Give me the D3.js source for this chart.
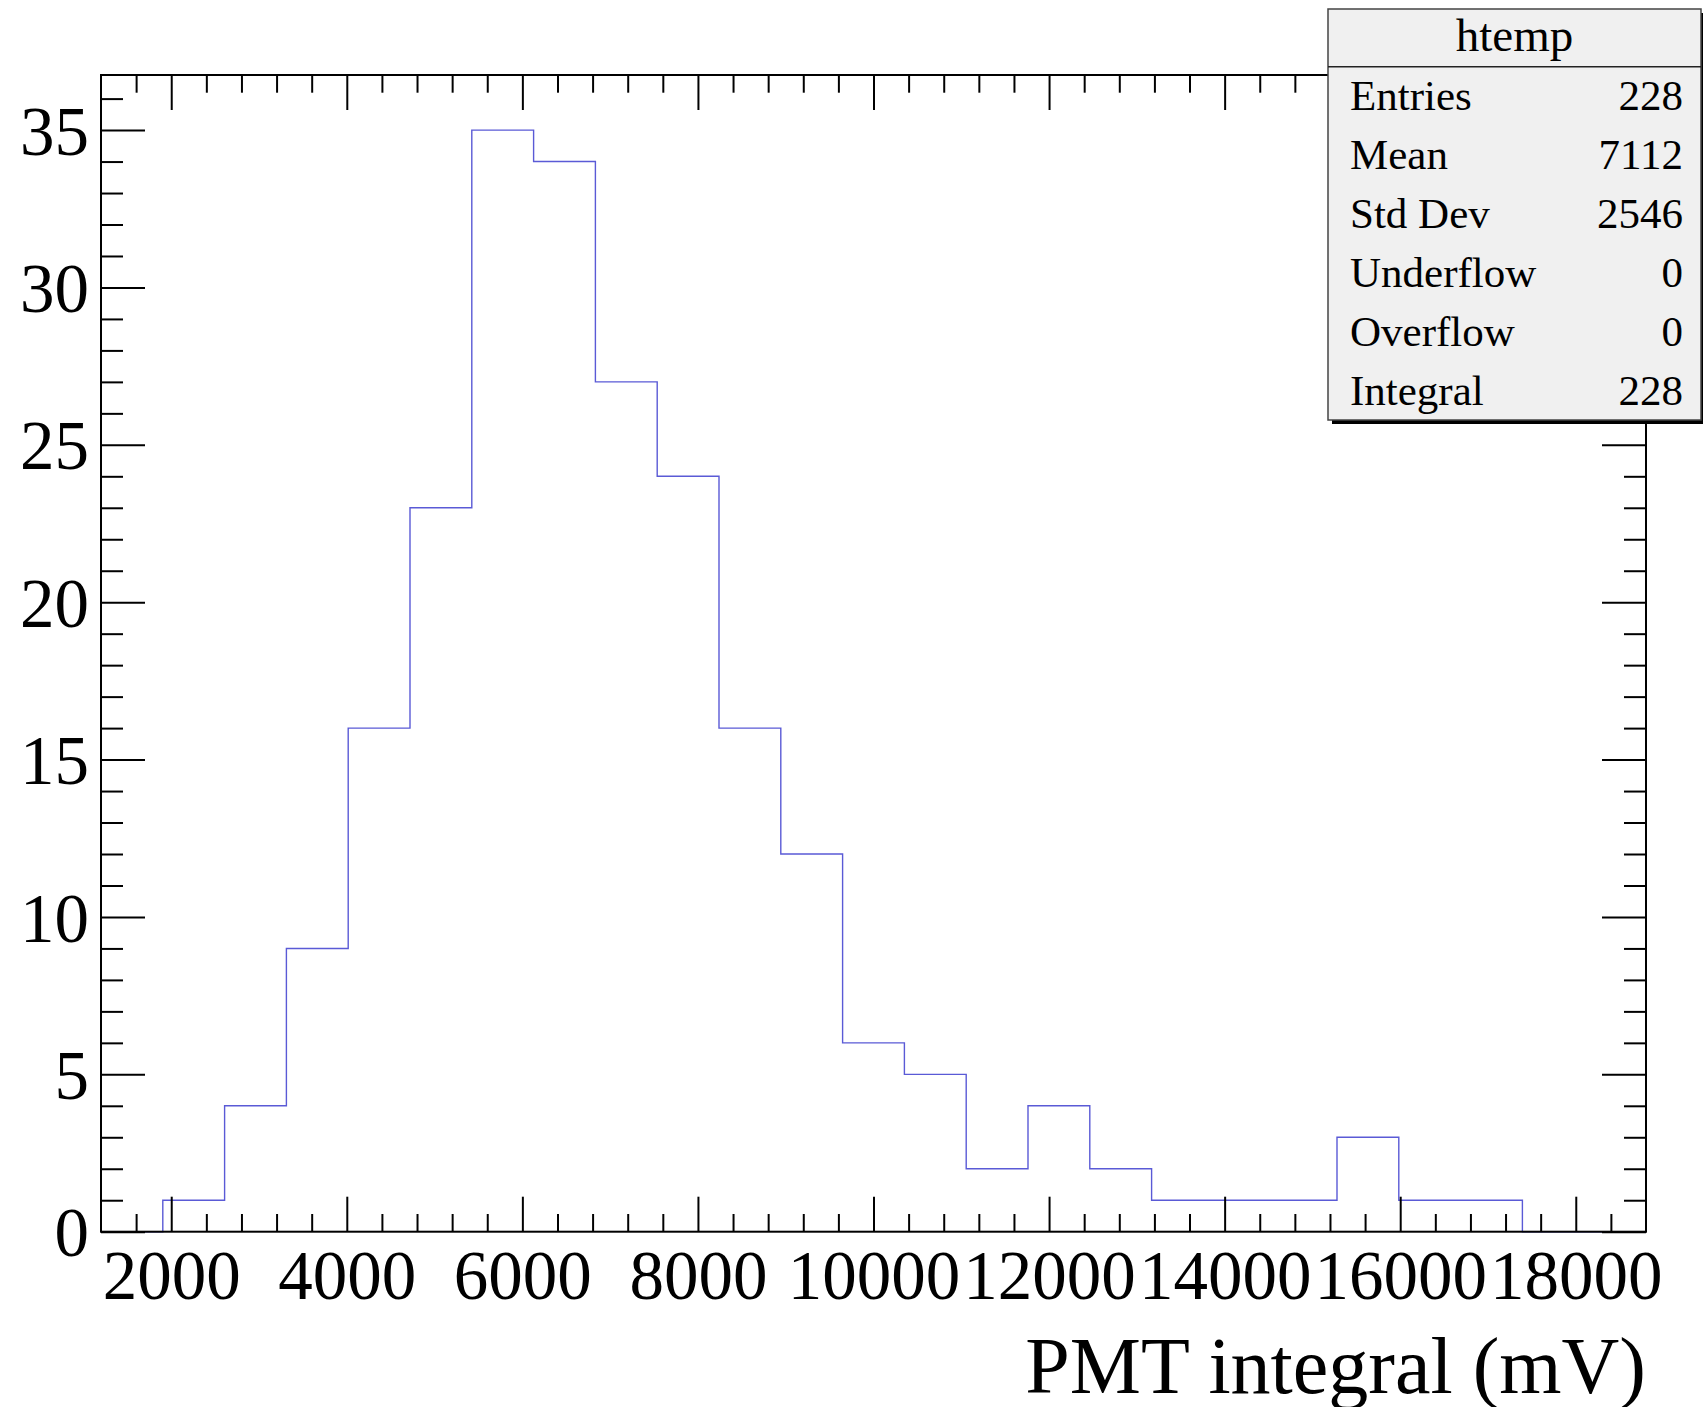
<!DOCTYPE html>
<html>
<head>
<meta charset="utf-8">
<script src="https://cdn.jsdelivr.net/npm/d3@7"></script>
<style>
  html, body { margin: 0; padding: 0; background: #ffffff; }
  svg { display: block; }
  text { font-family: "Liberation Serif", "DejaVu Serif", serif; fill: #000; }
</style>
</head>
<body>
<script>
// ---------------- data ----------------
const binEdges = [1200, 1904, 2608, 3312, 4016, 4720, 5424, 6128, 6832, 7536, 8240, 8944, 9648,
                  10352, 11056, 11760, 12464, 13168, 13872, 14576, 15280, 15984, 16688, 17392, 18096, 18800];
const binCounts = [0, 1, 4, 9, 16, 23, 35, 34, 27, 24, 16, 12, 6, 5, 2, 4, 2, 1, 1, 1, 3, 1, 1, 0, 0];
const xMajorTicks = [2000, 4000, 6000, 8000, 10000, 12000, 14000, 16000, 18000];
const xMinorTicks = [1600, 2400, 2800, 3200, 3600, 4400, 4800, 5200, 5600, 6400, 6800, 7200, 7600,
                     8400, 8800, 9200, 9600, 10400, 10800, 11200, 11600, 12400, 12800, 13200, 13600,
                     14400, 14800, 15200, 15600, 16400, 16800, 17200, 17600, 18400];
const yMajorTicks = [0, 5, 10, 15, 20, 25, 30, 35];
const yMinorTicks = [1, 2, 3, 4, 6, 7, 8, 9, 11, 12, 13, 14, 16, 17, 18, 19, 21, 22, 23, 24,
                     26, 27, 28, 29, 31, 32, 33, 34, 36];
const xDomain = [1200, 18800];
const yDomain = [0, 36.75];
const xTitle = "PMT integral (mV)";
const statsTitle = "htemp";
const statsLabels = ["Entries", "Mean", "Std Dev", "Underflow", "Overflow", "Integral"];
const statsValues = ["228", "7112", "2546", "0", "0", "228"];

// ---------------- layout ----------------
const W = 1703, H = 1407;
const L = 101, R = 1646, T = 75, B = 1231.7;

const svg = d3.select("body").append("svg").attr("width", W).attr("height", H);
svg.append("rect").attr("width", W).attr("height", H).attr("fill", "#ffffff");

const x = d3.scaleLinear().domain(xDomain).range([L, R]);
const y = d3.scaleLinear().domain(yDomain).range([B, T]);

// histogram outline
const pts = binCounts.map((c, i) => [binEdges[i], c]);
pts.push([binEdges[binEdges.length - 1], binCounts[binCounts.length - 1]]);
const line = d3.line().x(d => x(d[0])).y(d => y(d[1])).curve(d3.curveStepAfter);
svg.append("path").datum(pts).attr("d", line)
  .attr("fill", "none").attr("stroke", "#5a5ad6").attr("stroke-width", 1.4);

// axes
function styleAxis(g) {
  g.select(".domain").remove();
  g.selectAll(".tick line").attr("stroke", "#000").attr("stroke-width", 2);
}
const majX = 35, minX = 17.7, majY = 44, minY = 22;

// bottom
const gB = svg.append("g").attr("transform", `translate(0,${B})`);
gB.append("g").call(d3.axisBottom(x).tickValues(xMinorTicks).tickSize(-minX).tickFormat(""))
  .call(styleAxis);
const gBM = gB.append("g").call(d3.axisBottom(x).tickValues(xMajorTicks).tickSize(-majX).tickPadding(18).tickFormat(d3.format("d")))
  .call(styleAxis);
gBM.selectAll("text").attr("font-size", 69).attr("font-family", "Liberation Serif, serif").attr("fill", "#000");

// top
const gT = svg.append("g").attr("transform", `translate(0,${T})`);
gT.append("g").call(d3.axisTop(x).tickValues(xMinorTicks).tickSize(-minX).tickFormat("")).call(styleAxis);
gT.append("g").call(d3.axisTop(x).tickValues(xMajorTicks).tickSize(-majX).tickFormat("")).call(styleAxis);

// left
const gL = svg.append("g").attr("transform", `translate(${L},0)`);
gL.append("g").call(d3.axisLeft(y).tickValues(yMinorTicks).tickSize(-minY).tickFormat("")).call(styleAxis);
const gLM = gL.append("g").call(d3.axisLeft(y).tickValues(yMajorTicks).tickSize(-majY).tickPadding(12).tickFormat(d3.format("d")))
  .call(styleAxis);
gLM.selectAll("text").attr("font-size", 69).attr("font-family", "Liberation Serif, serif").attr("fill", "#000").attr("dy", "0.35em");

// right
const gR = svg.append("g").attr("transform", `translate(${R},0)`);
gR.append("g").call(d3.axisRight(y).tickValues(yMinorTicks).tickSize(-minY).tickFormat("")).call(styleAxis);
gR.append("g").call(d3.axisRight(y).tickValues(yMajorTicks).tickSize(-majY).tickFormat("")).call(styleAxis);

// frame
svg.append("rect").attr("x", L).attr("y", T).attr("width", R - L).attr("height", B - T)
  .attr("fill", "none").attr("stroke", "#000").attr("stroke-width", 2);

// x title
svg.append("text").attr("x", R).attr("y", 1393).attr("text-anchor", "end")
  .attr("font-size", 80).text(xTitle);

// stats box
const bx = 1328, by = 9, bw = 373, bh = 411, hdr = 66.7;
svg.append("rect").attr("x", bx + 4).attr("y", by + 4).attr("width", bw).attr("height", bh).attr("fill", "#000");
svg.append("rect").attr("x", bx).attr("y", by).attr("width", bw).attr("height", bh)
  .attr("fill", "#f0f0f0").attr("stroke", "#444").attr("stroke-width", 1.5);
svg.append("line").attr("x1", bx).attr("x2", bx + bw).attr("y1", hdr).attr("y2", hdr)
  .attr("stroke", "#222").attr("stroke-width", 1.5);
svg.append("text").attr("x", bx + bw / 2).attr("y", 51).attr("text-anchor", "middle")
  .attr("font-size", 47).text(statsTitle);
const rowH = (by + bh - hdr) / statsLabels.length;
const rows = svg.append("g").selectAll("g").data(statsLabels).join("g");
rows.append("text").attr("x", 1350).attr("y", (d, i) => hdr + rowH * (i + 0.5) + 14)
  .attr("font-size", 43).text(d => d);
rows.append("text").attr("x", 1683).attr("y", (d, i) => hdr + rowH * (i + 0.5) + 14)
  .attr("font-size", 43).attr("text-anchor", "end").text((d, i) => statsValues[i]);
</script>
</body>
</html>
